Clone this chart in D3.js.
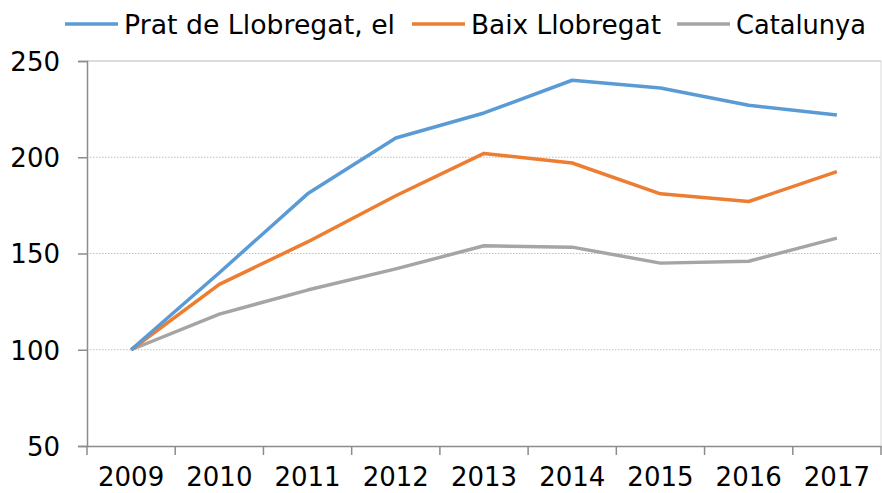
<!DOCTYPE html>
<html lang="en">
<head>
  <meta charset="UTF-8">
  <title>Prat de Llobregat index</title>
  <script src="https://d3js.org/d3.v7.min.js"></script>
  <style>
    body { margin: 0; background: #fff; }
    svg text { font-family: "DejaVu Sans", Verdana, sans-serif; fill: #000; }
  </style>
</head>
<body>
  <div id="chart"></div>
  <script>
    const years = ["2009", "2010", "2011", "2012", "2013", "2014", "2015", "2016", "2017"];
    const prat = [100, 140, 181, 210, 223, 240, 236, 227, 222];
    const baix = [100, 134, 156, 180, 202, 197, 181, 177, 192.5];
    const catalunya = [100, 118.5, 131, 142, 154, 153.3, 145, 146, 158];
    const yTicks = [50, 100, 150, 200, 250];

    const series = [
      { name: "Prat de Llobregat, el", values: prat, color: "#5b9bd5" },
      { name: "Baix Llobregat", values: baix, color: "#ed7d31" },
      { name: "Catalunya", values: catalunya, color: "#a5a5a5" }
    ];

    const width = 882, height = 493;
    const plotLeft = 87, plotRight = 881, plotTop = 61, plotBottom = 446;

    const svg = d3.select("#chart").append("svg")
      .attr("width", width)
      .attr("height", height);

    const x = d3.scaleBand().domain(years).range([plotLeft, plotRight]).padding(0);
    const y = d3.scaleLinear().domain([50, 250]).range([plotBottom, plotTop]);

    // gridlines (dotted)
    svg.append("g")
      .selectAll("line")
      .data(yTicks.filter(d => d > 50 && d < 250))
      .enter().append("line")
      .attr("x1", plotLeft).attr("x2", plotRight)
      .attr("y1", d => y(d)).attr("y2", d => y(d))
      .attr("stroke", "#bfbfbf")
      .attr("stroke-width", 1)
      .attr("stroke-dasharray", "1.5,1.5");

    // plot border top / right
    svg.append("line")
      .attr("x1", plotLeft).attr("x2", plotRight)
      .attr("y1", y(250)).attr("y2", y(250))
      .attr("stroke", "#d0d0d0").attr("stroke-width", 1.5);
    svg.append("line")
      .attr("x1", plotRight).attr("x2", plotRight)
      .attr("y1", plotTop).attr("y2", plotBottom)
      .attr("stroke", "#d9d9d9").attr("stroke-width", 1);

    // y axis
    const yAxis = svg.append("g")
      .attr("transform", `translate(${plotLeft},0)`)
      .call(d3.axisLeft(y).tickValues(yTicks).tickSize(9).tickPadding(18));
    yAxis.select(".domain").attr("stroke", "#8c8c8c").attr("stroke-width", 1.5);
    yAxis.selectAll(".tick line").attr("stroke", "#8c8c8c").attr("stroke-width", 1.5);
    yAxis.selectAll("text").style("font-size", "26px").attr("dy", "0.36em");

    // x axis: labels centred in bands, ticks at band edges
    const xAxis = svg.append("g")
      .attr("transform", `translate(0,${plotBottom})`)
      .call(d3.axisBottom(x).tickSize(0).tickPadding(22));
    xAxis.select(".domain").attr("stroke", "#8c8c8c").attr("stroke-width", 1.5);
    xAxis.selectAll("text").style("font-size", "26px");

    const edges = years.map(d => x(d)).concat([x(years[years.length - 1]) + x.bandwidth()]);
    svg.append("g")
      .selectAll("line")
      .data(edges)
      .enter().append("line")
      .attr("x1", d => d).attr("x2", d => d)
      .attr("y1", plotBottom).attr("y2", plotBottom + 9)
      .attr("stroke", "#8c8c8c").attr("stroke-width", 1.5);

    // lines
    const line = d3.line()
      .x((d, i) => x(years[i]) + x.bandwidth() / 2)
      .y(d => y(d));

    svg.append("g")
      .selectAll("path")
      .data(series.slice().reverse())
      .enter().append("path")
      .attr("d", d => line(d.values))
      .attr("fill", "none")
      .attr("stroke", d => d.color)
      .attr("stroke-width", 3.5)
      .attr("stroke-linejoin", "round");

    // legend
    const legendItems = [
      { x: 65, len: 271 },
      { x: 412, len: 190 },
      { x: 677, len: 130 }
    ];
    const legend = svg.append("g").attr("class", "legend");
    series.forEach((s, i) => {
      const it = legendItems[i];
      legend.append("line")
        .attr("x1", it.x).attr("x2", it.x + 53)
        .attr("y1", 24).attr("y2", 24)
        .attr("stroke", s.color).attr("stroke-width", 3.5);
      legend.append("text")
        .attr("x", it.x + 59)
        .attr("y", 34)
        .attr("textLength", it.len)
        .attr("lengthAdjust", "spacingAndGlyphs")
        .style("font-size", "26px")
        .text(s.name);
    });
  </script>
</body>
</html>
